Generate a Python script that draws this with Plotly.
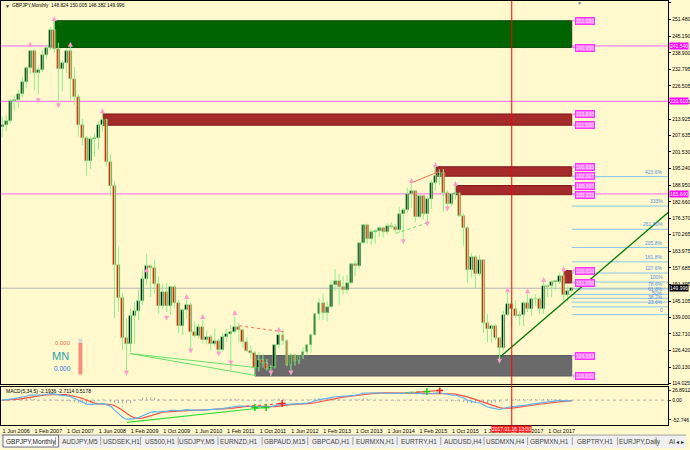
import numpy as np
import plotly.graph_objects as go

# ---------------- data ----------------
# monthly bars, index 0 = Jun 2006 ... 142 = Apr 2018
opens = [
    210.8, 211.8, 213.2, 220.7, 221.0, 223.4, 228.0,
    233.2, 239.8, 231.5, 232.3, 238.0, 240.8, 247.7, 240.5, 233.0, 235.0, 239.5, 229.0,
    222.4, 211.6, 206.8, 198.2, 206.3, 206.8, 211.8, 213.5, 197.8, 188.7, 158.7, 146.4,
    131.1, 129.0, 139.4, 141.5, 145.0, 153.6, 158.3, 157.6, 151.5, 143.3, 148.5, 143.4,
    150.4, 144.5, 135.8, 141.6, 143.8, 133.3, 132.0, 135.5, 130.5, 131.5, 129.0, 130.0,
    126.8, 131.4, 132.8, 133.4, 135.5, 134.2, 129.5, 126.4, 125.4, 120.0, 122.8, 121.7,
    119.6, 120.3, 128.4, 132.3, 130.2, 120.9, 124.7, 122.6, 124.3, 125.9, 128.7, 132.5,
    140.1, 144.3, 140.5, 143.0, 151.4, 152.7, 150.5, 149.5, 152.0, 159.2, 158.3, 167.1,
    173.9, 168.5, 171.4, 171.8, 172.7, 171.2, 173.5, 173.2, 171.9, 177.9, 179.7, 185.7,
    186.9, 176.9, 184.7, 178.0, 183.7, 189.6, 192.4, 193.6, 185.9, 181.7, 185.6, 185.7,
    177.2, 172.6, 156.8, 161.8, 155.4, 160.6, 137.0, 134.7, 135.6, 131.2, 127.5, 139.7,
    144.1, 142.0, 139.5, 139.7, 144.5, 142.3, 146.1, 145.8, 142.2, 150.8, 150.7, 152.2,
    152.3, 154.8, 147.3, 148.824,
]
highs = [
    215.0, 215.5, 221.6, 222.8, 225.0, 229.8, 234.0,
    240.2, 240.5, 233.5, 240.2, 242.0, 248.7, 251.08, 242.8, 236.0, 240.5, 241.3, 233.5,
    223.3, 214.0, 207.5, 207.4, 208.5, 213.2, 215.84, 214.0, 200.8, 190.2, 165.7, 148.2,
    138.6, 142.4, 144.8, 149.5, 156.7, 163.0, 158.9, 160.7, 154.5, 151.5, 152.0, 150.4,
    151.3, 145.5, 142.2, 146.9, 144.7, 137.4, 136.5, 137.8, 134.0, 132.5, 134.7, 131.0,
    133.0, 134.7, 136.2, 139.3, 137.0, 134.3, 131.5, 128.3, 126.3, 126.0, 125.3, 123.3,
    121.0, 129.0, 134.0, 134.5, 130.8, 125.5, 125.0, 124.5, 127.8, 128.8, 132.4, 140.4,
    146.2, 147.9, 145.0, 153.0, 157.2, 155.4, 154.5, 155.0, 159.2, 160.6, 167.5, 174.1,
    174.4, 172.3, 172.3, 173.4, 173.2, 174.6, 175.0, 174.3, 180.7, 180.3, 188.0, 191.0,
    187.0, 185.5, 184.8, 184.6, 190.8, 195.883, 194.9, 195.0, 187.1, 186.2, 188.806, 186.2,
    178.4, 173.5, 163.2, 162.5, 162.4, 160.8, 140.2, 136.0, 136.5, 131.4, 141.5, 148.4,
    146.3, 145.4, 141.4, 145.0, 148.1, 146.0, 147.8, 146.6, 152.8, 151.7, 152.9, 153.0,
    156.0, 156.61, 150.9, 150.005,
]
lows = [
    207.0, 209.3, 212.2, 217.0, 218.0, 222.0, 225.5,
    231.0, 224.8, 223.3, 231.7, 236.5, 240.0, 239.0, 219.2, 224.5, 231.3, 221.0, 219.3,
    207.3, 204.0, 192.5, 195.0, 199.6, 202.3, 209.3, 196.0, 184.8, 138.6, 141.2, 126.6,
    118.8, 125.8, 129.0, 138.0, 143.6, 151.0, 146.7, 148.0, 140.5, 142.0, 141.0, 139.9,
    142.4, 133.0, 132.3, 138.5, 126.7, 131.5, 131.0, 129.0, 128.8, 126.5, 128.0, 125.5,
    126.0, 129.8, 119.0, 133.0, 129.5, 127.5, 125.9, 123.4, 116.832, 118.5, 120.0, 118.9,
    116.8, 119.7, 127.3, 128.5, 120.5, 118.8, 120.8, 121.3, 123.3, 124.6, 125.5, 132.0,
    137.9, 138.0, 137.4, 142.6, 148.9, 143.8, 147.7, 148.0, 151.6, 154.5, 157.4, 166.8,
    166.7, 166.3, 166.8, 169.4, 169.2, 170.4, 172.4, 170.8, 171.0, 167.6, 178.5, 180.4,
    175.0, 176.6, 175.9, 174.8, 180.0, 187.0, 189.0, 178.9, 179.3, 181.0, 183.5, 176.9,
    166.0, 152.2, 154.0, 150.0, 154.7, 133.0, 129.5, 129.3, 130.4, 122.4, 126.5, 139.5,
    135.6, 138.8, 135.8, 135.6, 141.0, 139.5, 143.2, 140.2, 140.2, 146.7, 146.5, 149.2,
    151.6, 145.7, 144.8, 148.382,
]
closes = [
    211.8, 213.2, 220.7, 221.0, 223.4, 228.0, 233.2,
    239.8, 231.5, 232.3, 238.0, 240.8, 247.7, 240.5, 233.0, 235.0, 239.5, 229.0, 222.4,
    211.6, 206.8, 198.2, 206.3, 206.8, 211.8, 213.5, 197.8, 188.7, 158.7, 146.4, 131.1,
    129.0, 139.4, 141.5, 145.0, 153.6, 158.3, 157.6, 151.5, 143.3, 148.5, 143.4, 150.4,
    144.5, 135.8, 141.6, 143.8, 133.3, 132.0, 135.5, 130.5, 131.5, 129.0, 130.0, 126.8,
    131.4, 132.8, 133.4, 135.5, 134.2, 129.5, 126.4, 125.4, 120.0, 122.8, 121.7, 119.6,
    120.3, 128.4, 132.3, 130.2, 120.9, 124.7, 122.6, 124.3, 125.9, 128.7, 132.5, 140.1,
    144.3, 140.5, 143.0, 151.4, 152.7, 150.5, 149.5, 152.0, 159.2, 158.3, 167.1, 173.9,
    168.5, 171.4, 171.8, 172.7, 171.2, 173.5, 173.2, 171.9, 177.9, 179.7, 185.7, 186.9,
    176.9, 184.7, 178.0, 183.7, 189.6, 192.4, 193.6, 185.9, 181.7, 185.6, 185.7, 177.2,
    172.6, 156.8, 161.8, 155.4, 160.6, 137.0, 134.7, 135.6, 131.2, 127.5, 139.7, 144.1,
    142.0, 139.5, 139.7, 144.5, 142.3, 146.1, 145.8, 142.2, 150.8, 150.7, 152.2, 152.3,
    154.8, 147.3, 149.1, 149.996,
]
bar_idx = list(range(len(closes)))

date_tick_idx = [0, 8, 16, 24, 32, 40, 48, 56, 64, 72, 80, 88, 96, 104, 112, 120, 128, 136]
date_tick_text = ["1 Jun 2006", "1 Feb 2007", "1 Oct 2007", "1 Jun 2008", "1 Feb 2009",
                  "1 Oct 2009", "1 Jun 2010", "1 Feb 2011", "1 Oct 2011", "1 Jun 2012",
                  "1 Feb 2013", "1 Oct 2013", "1 Jun 2014", "1 Feb 2015", "1 Oct 2015",
                  "1 Jun 2016", "1 Feb 2017", "1 Oct 2017"]

price_ticks = [257.775, 251.480, 245.190, 238.900, 232.795, 226.505, 220.215, 213.925,
               207.635, 201.530, 195.240, 188.950, 182.660, 176.370, 170.265, 163.975,
               157.685, 151.395, 145.105, 139.000, 132.710, 126.420, 120.130, 114.025]

macd_ticks = [26.8912, 0.0, -52.746]
macd_tick_text = ["26.8912", "0.00", "-52.746"]

# supply / demand zones
zone_start = [13, 25, 108, 113, 140, 63]
zone_end = [142, 142, 142, 142, 142, 142]
zone_top = [251.080, 215.840, 195.883, 188.806, 156.610, 124.564]
zone_bottom = [240.950, 211.590, 192.327, 185.338, 151.998, 116.832]
zone_kind = ["green", "red", "red", "red", "red", "gray"]

# horizontal levels across the chart
hlines = [241.540, 220.610, 185.640]
last_price = 149.996

# fibonacci expansion (anchor levels and ratios)
fib_zero = 140.04
fib_hundred = 152.35
fib_ratios = [4.236, 3.33, 2.618, 2.058, 1.618, 1.276, 1.0, 0.786, 0.618, 0.5, 0.382, 0.236, 0.0]
fib_text = ["423.6%", "333%", "261.80%", "205.8%", "161.8%", "127.6%", "100%", "78.6%",
            "61.8%", "50%", "38.2%", "23.6%", "0"]
fib_start = 142

# trend line anchors
trend_x = [124.2, 166.04]
trend_y = [124.1, 178.6]

vline_idx = 127.05

# fractal arrows
up_frac_idx = [7, 13, 17, 25, 36, 46, 50, 58, 69, 102, 108, 113, 126, 131, 135, 140]
up_frac_price = [243.1, 252.9, 243.1, 218.0, 157.9, 147.8, 140.3, 141.8, 135.4,
                 191.7, 197.7, 190.6, 150.4, 150.0, 154.2, 158.3]
dn_frac_idx = [9, 14, 31, 41, 47, 54, 57, 67, 72, 100, 106, 111, 124]
dn_frac_price = [219.9, 218.0, 117.0, 137.7, 125.3, 124.2, 120.8, 117.0, 117.0,
                 166.6, 173.3, 179.0, 121.5]

# divergence lines on price
div_price_green = [([31.9, 63.3], [125.3, 120.0]), ([31.9, 63.3], [125.3, 117.0])]
div_price_green_dot = [([98.2, 106.1], [170.7, 174.8])]
div_price_red = [([102.0, 108.6], [189.8, 193.9])]
div_price_red_dot = [([59.1, 70.2], [135.8, 133.5])]
# divergence lines on MACD
div_macd_green = [([31.1, 65.8], [-59.2, -19.4])]
div_macd_green_dot = [([100.4, 105.9], [20.4, 23.1])]
div_macd_red = [([103.0, 109.1], [21.0, 25.7])]
div_macd_red_dot = [([60.8, 69.8], [-16.7, -8.8])]
macd_plus_green = ([63.0, 65.8, 105.9], [-19.4, -19.4, 23.1])
macd_plus_red = ([69.8, 109.1], [-8.8, 25.7])

tab_names = ["GBPJPY,Monthly", "AUDJPY,M5", "USDSEK,H1", "US500,H1", "USDJPY,M5",
             "EURNZD,H1", "GBPAUD,M15", "GBPCAD,H1", "EURMXN,H1", "EURTRY,H1",
             "AUDUSD,H4", "USDMXN,H4", "GBPMXN,H1", "GBPTRY,H1", "EURJPY,Daily", "AI"]

# ---------------- MACD(5,34,5) from closes ----------------
def ema(vals, n):
    a = 2.0 / (n + 1)
    out = [vals[0]]
    for v in vals[1:]:
        out.append(out[-1] + a * (v - out[-1]))
    return np.array(out)

c = np.array(closes)
macd_main = ema(c, 5) - ema(c, 34)
macd_sig = np.array([macd_main[max(0, i - 4):i + 1].mean() for i in range(len(macd_main))])
macd_hist = macd_main - macd_sig

# ---------------- geometry ----------------
W, H = 690, 450
PR = 672
FONT = "Liberation Sans"
xr = [-0.3, 166.04]
yr = [113.648, 258.526]
y2r = [-66.82, 34.06]

def py(p):  # pixel y -> paper
    return 1 - p / H

def px(p):
    return p / W

fig = go.Figure()

# candle wicks
wx, wy = [], []
for i, h, l in zip(bar_idx, highs, lows):
    wx += [i, i, None]
    wy += [l, h, None]
fig.add_trace(go.Scatter(x=wx, y=wy, mode="lines", line=dict(color="#8CF08C", width=1),
                         xaxis="x", yaxis="y", showlegend=False, hoverinfo="skip"))
# candle bodies
body_len = [cl - op if abs(cl - op) > 0.35 else (0.35 if cl >= op else -0.35) for op, cl in zip(opens, closes)]
body_col = ["#000000" if cl >= op else "#FF0000" for op, cl in zip(opens, closes)]
fig.add_trace(go.Bar(x=bar_idx, y=body_len, base=opens, width=0.72,
                     marker=dict(color=body_col, line=dict(color="#7CE87C", width=0.6)),
                     xaxis="x", yaxis="y", showlegend=False, hoverinfo="skip"))

# trend line
fig.add_trace(go.Scatter(x=trend_x, y=trend_y, mode="lines",
                         line=dict(color="#007A00", width=1.3),
                         xaxis="x", yaxis="y", showlegend=False, hoverinfo="skip"))

# divergence lines on price
for seg in div_price_green:
    fig.add_trace(go.Scatter(x=seg[0], y=seg[1], mode="lines", line=dict(color="#66E066", width=1),
                             xaxis="x", yaxis="y", showlegend=False, hoverinfo="skip"))
for seg in div_price_green_dot:
    fig.add_trace(go.Scatter(x=seg[0], y=seg[1], mode="lines", line=dict(color="#66E066", width=1, dash="dot"),
                             xaxis="x", yaxis="y", showlegend=False, hoverinfo="skip"))
for seg in div_price_red:
    fig.add_trace(go.Scatter(x=seg[0], y=seg[1], mode="lines", line=dict(color="#FF6A50", width=1),
                             xaxis="x", yaxis="y", showlegend=False, hoverinfo="skip"))
for seg in div_price_red_dot:
    fig.add_trace(go.Scatter(x=seg[0], y=seg[1], mode="lines", line=dict(color="#FF6A50", width=1, dash="dot"),
                             xaxis="x", yaxis="y", showlegend=False, hoverinfo="skip"))

# fractals
fig.add_trace(go.Scatter(x=up_frac_idx, y=up_frac_price, mode="markers",
                         marker=dict(symbol="arrow-up", size=5, color="#FF9CCF"),
                         xaxis="x", yaxis="y", showlegend=False, hoverinfo="skip"))
fig.add_trace(go.Scatter(x=dn_frac_idx, y=dn_frac_price, mode="markers",
                         marker=dict(symbol="arrow-down", size=5, color="#FF9CCF"),
                         xaxis="x", yaxis="y", showlegend=False, hoverinfo="skip"))

# MACD histogram (dotted gray sticks)
hx, hy = [], []
for i, v in zip(bar_idx, macd_hist):
    hx += [i, i, None]
    hy += [0, v, None]
fig.add_trace(go.Scatter(x=hx, y=hy, mode="lines", line=dict(color="#A8A8A8", width=1, dash="dot"),
                         xaxis="x2", yaxis="y2", showlegend=False, hoverinfo="skip"))
fig.add_trace(go.Scatter(x=[xr[0], xr[1]], y=[0, 0], mode="lines",
                         line=dict(color="#B0B0B0", width=1, dash="dot"),
                         xaxis="x2", yaxis="y2", showlegend=False, hoverinfo="skip"))
fig.add_trace(go.Scatter(x=bar_idx, y=macd_sig, mode="lines", line=dict(color="#FF5040", width=1.2),
                         xaxis="x2", yaxis="y2", showlegend=False, hoverinfo="skip"))
fig.add_trace(go.Scatter(x=bar_idx, y=macd_main, mode="lines", line=dict(color="#5AB4F0", width=1.2),
                         xaxis="x2", yaxis="y2", showlegend=False, hoverinfo="skip"))
for seg in div_macd_green:
    fig.add_trace(go.Scatter(x=seg[0], y=seg[1], mode="lines", line=dict(color="#33DD33", width=1.2),
                             xaxis="x2", yaxis="y2", showlegend=False, hoverinfo="skip"))
for seg in div_macd_green_dot:
    fig.add_trace(go.Scatter(x=seg[0], y=seg[1], mode="lines", line=dict(color="#33DD33", width=1, dash="dot"),
                             xaxis="x2", yaxis="y2", showlegend=False, hoverinfo="skip"))
for seg in div_macd_red:
    fig.add_trace(go.Scatter(x=seg[0], y=seg[1], mode="lines", line=dict(color="#FF3030", width=1),
                             xaxis="x2", yaxis="y2", showlegend=False, hoverinfo="skip"))
for seg in div_macd_red_dot:
    fig.add_trace(go.Scatter(x=seg[0], y=seg[1], mode="lines", line=dict(color="#FF3030", width=1, dash="dot"),
                             xaxis="x2", yaxis="y2", showlegend=False, hoverinfo="skip"))
fig.add_trace(go.Scatter(x=macd_plus_green[0], y=macd_plus_green[1], mode="markers",
                         marker=dict(symbol="cross-thin", size=5, line=dict(color="#22CC22", width=1.5)),
                         xaxis="x2", yaxis="y2", showlegend=False, hoverinfo="skip"))
fig.add_trace(go.Scatter(x=macd_plus_red[0], y=macd_plus_red[1], mode="markers",
                         marker=dict(symbol="cross-thin", size=5, line=dict(color="#EE2222", width=1.5)),
                         xaxis="x2", yaxis="y2", showlegend=False, hoverinfo="skip"))

shapes = []
zone_fill = {"green": "#006400", "red": "#A52A2A", "gray": "#6A6A6A"}
zone_line = {"green": "#0B4F0B", "red": "#7E1A1A", "gray": "#5A5A5A"}
for x0, x1, t, b, k in zip(zone_start, zone_end, zone_top, zone_bottom, zone_kind):
    shapes.append(dict(type="rect", xref="x", yref="y", x0=x0, x1=x1, y0=b, y1=t,
                       fillcolor=zone_fill[k], line=dict(color=zone_line[k], width=1), layer="below"))
    for v in (t, b):
        shapes.append(dict(type="line", xref="x", yref="y", x0=x1, x1=x1 + 0.8, y0=v, y1=v,
                           line=dict(color="#FF66FF", width=1), layer="below"))
for v in hlines:
    shapes.append(dict(type="line", xref="x domain", yref="y", x0=0, x1=1, y0=v, y1=v,
                       line=dict(color="#FF66FF", width=1), layer="below"))
shapes.append(dict(type="line", xref="x domain", yref="y", x0=0, x1=1, y0=last_price, y1=last_price,
                   line=dict(color="#B4B4B4", width=1), layer="below"))
fib_levels = [fib_zero + r * (fib_hundred - fib_zero) for r in fib_ratios]
for lv in fib_levels:
    shapes.append(dict(type="line", xref="x", yref="y", x0=fib_start, x1=xr[1], y0=lv, y1=lv,
                       line=dict(color="#8EC6EA", width=1), layer="below"))
# vertical red line through both panes
shapes.append(dict(type="line", xref="x", yref="paper", x0=vline_idx, x1=vline_idx,
                   y0=py(427), y1=1, line=dict(color="#FF0000", width=1)))
# tab bar
shapes.append(dict(type="rect", xref="paper", yref="paper", x0=0, x1=1, y0=0, y1=py(437),
                   fillcolor="#F0F0F0", line=dict(width=0)))
shapes.append(dict(type="line", xref="paper", yref="paper", x0=0, x1=1, y0=py(437), y1=py(437),
                   line=dict(color="#A0A0A0", width=1)))
shapes.append(dict(type="rect", xref="paper", yref="paper", x0=px(2), x1=px(58), y0=py(449), y1=py(437),
                   fillcolor="#FFFFFF", line=dict(color="#707070", width=1)))
# logo bar
shapes.append(dict(type="rect", xref="paper", yref="paper", x0=px(78), x1=px(82), y0=py(376), y1=py(344),
                   fillcolor="#F4907E", line=dict(width=0)))
shapes.append(dict(type="rect", xref="paper", yref="paper", x0=px(78), x1=px(82), y0=py(344), y1=py(340),
                   fillcolor="#D8D8D8", line=dict(width=0)))

ann = []
ann.append(dict(xref="paper", yref="paper", x=px(2), y=py(5), xanchor="left", yanchor="middle",
                text="▼", showarrow=False, font=dict(family=FONT, size=5, color="#333333")))
ann.append(dict(xref="paper", yref="paper", x=px(9), y=py(5), xanchor="left", yanchor="middle",
                text="GBPJPY,Monthly  148.824 150.005 148.382 149.996", showarrow=False,
                font=dict(family=FONT, size=4.8, color="#000000")))
ann.append(dict(xref="paper", yref="paper", x=px(583), y=py(2), xanchor="center", yanchor="middle",
                text="▼", showarrow=False, font=dict(family=FONT, size=5, color="#6A8AAA")))
# zone price labels
for x1, t, b in zip(zone_end, zone_top, zone_bottom):
    for v in (t, b):
        ann.append(dict(xref="x", yref="y", x=x1 + 0.8, y=v, xanchor="left", yanchor="middle",
                        text=f"{v:.3f}", showarrow=False, bgcolor="#FF70FF", bordercolor="#FF33FF",
                        borderwidth=1, borderpad=0, font=dict(family=FONT, size=5, color="#FFE8FF")))
# axis price boxes
for v in hlines:
    ann.append(dict(xref="paper", yref="y", x=px(PR + 1), y=v, xanchor="left", yanchor="middle",
                    text=f"{v:.3f}", showarrow=False, bgcolor="#FF00FF", borderpad=0,
                    font=dict(family=FONT, size=5, color="#FFFFFF")))
ann.append(dict(xref="paper", yref="y", x=px(PR + 1), y=last_price, xanchor="left", yanchor="middle",
                text=f"{last_price:.3f}", showarrow=False, bgcolor="#000000", borderpad=0,
                font=dict(family=FONT, size=5, color="#FFFFFF")))
# fib labels
for lv, t in zip(fib_levels, fib_text):
    ann.append(dict(xref="paper", yref="y", x=px(PR - 3), y=lv, xanchor="right", yanchor="bottom",
                    text=t, showarrow=False, font=dict(family=FONT, size=5, color="#5A8FE0")))
# logo
ann.append(dict(xref="paper", yref="paper", x=px(62), y=py(344), xanchor="center", yanchor="middle",
                text="0.000", showarrow=False, font=dict(family=FONT, size=6, color="#F07050")))
ann.append(dict(xref="paper", yref="paper", x=px(60), y=py(357), xanchor="center", yanchor="middle",
                text="MN", showarrow=False, font=dict(family=FONT, size=11, color="#2AA0B0")))
ann.append(dict(xref="paper", yref="paper", x=px(62), y=py(370), xanchor="center", yanchor="middle",
                text="0.000", showarrow=False, font=dict(family=FONT, size=6.5, color="#1E78E0")))
# macd label
ann.append(dict(xref="paper", yref="paper", x=px(3), y=py(393), xanchor="left", yanchor="middle",
                text="MACD(5,34,5) -2.1936 -2.7114 0.5178", showarrow=False,
                font=dict(family=FONT, size=5, color="#000000")))
# red time box
ann.append(dict(xref="x", yref="paper", x=vline_idx, y=py(431), xanchor="center", yanchor="middle",
                text="2017.01.16 13:00", showarrow=False, bgcolor="#FF2020", borderpad=0,
                font=dict(family=FONT, size=5, color="#FFFFFF")))
# tabs
tab_x = [30, 80, 121, 160, 197, 240, 286, 332, 377, 421, 465, 508, 553, 598, 644, 676]
for i, (name, cx) in enumerate(zip(tab_names, tab_x)):
    ann.append(dict(xref="paper", yref="paper", x=px(cx), y=py(443.5), xanchor="center", yanchor="middle",
                    text=name, showarrow=False,
                    font=dict(family=FONT, size=6.5, color="#222222" if i == 0 else "#444444")))
    if 0 < i:
        sx = (tab_x[i - 1] + cx) / 2
        shapes.append(dict(type="line", xref="paper", yref="paper", x0=px(sx), x1=px(sx),
                           y0=py(447), y1=py(439), line=dict(color="#A0A0A0", width=1)))
ann.append(dict(xref="paper", yref="paper", x=px(684), y=py(443.5), xanchor="center", yanchor="middle",
                text="◂ ▸", showarrow=False, font=dict(family=FONT, size=6, color="#222222")))

axis_common = dict(showgrid=False, zeroline=False, showline=True, mirror=True,
                   linecolor="#000000", linewidth=1)
fig.update_layout(
    width=W, height=H, margin=dict(l=0, r=0, t=0, b=0),
    paper_bgcolor="#FFF9CD", plot_bgcolor="#FFF9CD",
    showlegend=False, shapes=shapes, annotations=ann, bargap=0,
    xaxis=dict(domain=[0, PR / W], range=xr, anchor="y", showticklabels=False, **axis_common),
    yaxis=dict(domain=[py(386), 1], range=yr, anchor="x", side="right",
               tickvals=price_ticks, ticktext=[f"{v:.3f}" for v in price_ticks],
               ticks="outside", ticklen=2, tickcolor="#000000",
               tickfont=dict(family=FONT, size=5, color="#000000"), **axis_common),
    xaxis2=dict(domain=[0, PR / W], range=xr, anchor="y2", tickvals=date_tick_idx,
                ticktext=date_tick_text, tickangle=0, ticks="", ticklabelshift=14,
                tickfont=dict(family=FONT, size=5.5, color="#000000"), **axis_common),
    yaxis2=dict(domain=[py(427), py(389)], range=y2r, anchor="x2", side="right",
                tickvals=macd_ticks, ticktext=macd_tick_text, ticks="outside", ticklen=2,
                tickfont=dict(family=FONT, size=5, color="#000000"), **axis_common),
)

fig.write_html("out.html", config={"displayModeBar": False},
               post_script="document.body.style.margin='0';document.body.style.overflow='hidden';")
